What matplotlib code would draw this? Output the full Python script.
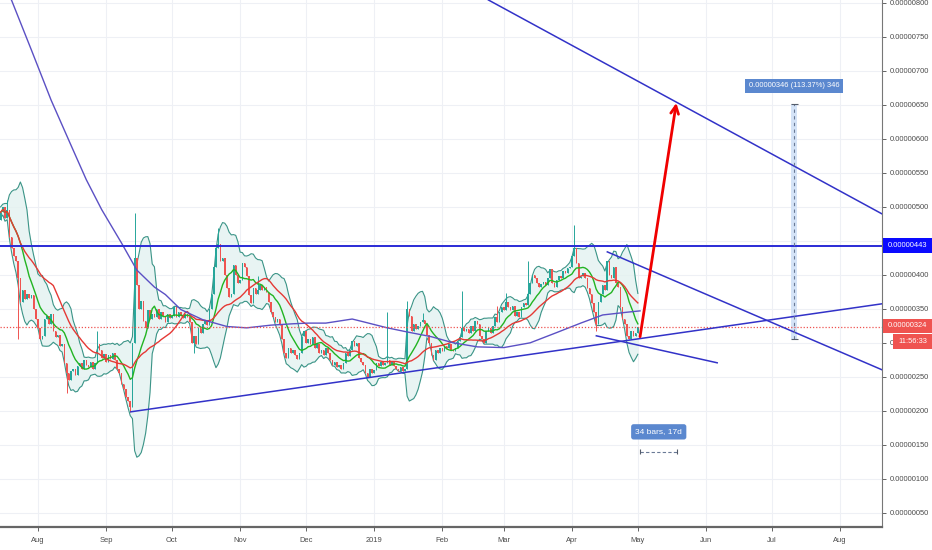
import numpy as np
import pandas as pd
import matplotlib
matplotlib.use('Agg')
import matplotlib.pyplot as plt
from matplotlib import font_manager
from matplotlib.patches import Rectangle
from matplotlib.transforms import blended_transform_factory

# daily closes, 2018-07-15 .. 2019-05-01, in units of 1e-8 (324 -> 0.00000324)
start_day = '2018-07-15'
first_open = 480
closes = [
    492, 500, 484, 496, 455, 440, 428, 420, 395, 360,
    378, 365, 372, 366, 370, 350, 335, 322, 305, 310,
    335, 340, 328, 342, 318, 308, 312, 295, 298, 270,
    255, 245, 258, 262, 252, 266, 270, 262, 275, 268,
    265, 272, 262, 270, 298, 290, 278, 284, 272, 282,
    276, 285, 274, 262, 255, 240, 232, 220, 214, 205,
    300, 425, 385, 350, 362, 332, 322, 348, 335, 342,
    338, 350, 335, 345, 340, 330, 342, 336, 340, 352,
    338, 345, 340, 336, 342, 338, 330, 300, 310, 298,
    322, 315, 328, 332, 326, 350, 372, 412, 440, 445,
    420, 425, 400, 380, 368, 372, 415, 400, 388, 392,
    418, 412, 398, 370, 358, 380, 372, 378, 385, 378,
    382, 375, 360, 345, 338, 330, 335, 326, 305, 285,
    278, 292, 285, 290, 282, 276, 285, 310, 318, 300,
    305, 298, 308, 292, 298, 285, 290, 282, 292, 285,
    275, 268, 272, 265, 268, 262, 270, 285, 280, 290,
    302, 296, 300, 278, 272, 268, 255, 250, 262, 256,
    260, 270, 266, 272, 268, 270, 275, 268, 272, 266,
    262, 258, 264, 258, 262, 350, 340, 318, 328, 320,
    325, 330, 334, 328, 312, 300, 282, 275, 290, 285,
    292, 288, 295, 292, 298, 290, 288, 292, 302, 308,
    322, 318, 320, 315, 325, 318, 332, 328, 310, 305,
    300, 318, 322, 315, 325, 338, 330, 345, 352, 348,
    360, 352, 348, 354, 340, 345, 338, 352, 358, 355,
    372, 388, 400, 395, 388, 382, 386, 390, 385, 395,
    408, 388, 382, 392, 398, 395, 405, 402, 410, 412,
    428, 440, 418, 395, 398, 402, 396, 380, 372, 358,
    345, 328, 360, 372, 385, 378, 420, 400, 395, 412,
    388, 382, 352, 335, 328, 310, 305, 318, 310, 315,
    324,
]
# long wicks seen on the chart (day index -> price)
wick_high = {3: 510, 44: 317, 61: 491, 99: 469, 117: 398, 176: 346, 185: 361,
             192: 344, 210: 376, 226: 354, 230: 373, 240: 420, 261: 474}
wick_low = {8: 305, 30: 226, 59: 198, 88: 285, 271: 318}

# slow moving average (purple)
purple_day = [0, 5, 14, 23, 32, 39, 46, 55, 62, 70, 75, 82, 92, 103, 112, 123,
              133, 140, 148, 160, 165, 176, 185, 196, 206, 217, 229, 241, 253,
              264, 274, 285, 291]
purple_val = [830, 804, 731, 657, 591, 540, 496, 447, 407, 382, 371, 349, 334,
              324, 322, 326, 328, 329, 329, 335, 331, 322, 316, 309, 300, 294,
              293, 300, 315, 329, 341, 345, 347]

# drawn lines: (day, price) pairs
resist_level = 443
last_price = 324
top_line = [(222, 804.4), (401.1, 489.7)]
support_line = [(59.3, 198.5), (401.1, 357.4)]
wedge_upper = [(276.1, 433.8), (401.1, 260.3)]
wedge_lower = [(271.1, 310.3), (326.1, 270.6)]
target_arrow = [(291, 309), (307.5, 653)]
measure_day = 361.2
measure_from, measure_to = 305, 651
bars_range = (291, 308)

month_starts = ['2018-08-01', '2018-09-01', '2018-10-01', '2018-11-01', '2018-12-01',
                '2019-01-01', '2019-02-01', '2019-03-01', '2019-04-01', '2019-05-01',
                '2019-06-01', '2019-07-01', '2019-08-01']
month_labels = ['Aug', 'Sep', 'Oct', 'Nov', 'Dec', '2019', 'Feb', 'Mar', 'Apr', 'May',
                'Jun', 'Jul', 'Aug']
price_ticks = list(range(50, 801, 50))

names = {f.name for f in font_manager.fontManager.ttflist}
if 'Liberation Sans Narrow' in names:
    fnt, fs = 'Liberation Sans Narrow', 6.5
else:
    fnt, fs = 'Liberation Sans', 5.4
plt.rcParams['font.family'] = fnt

UP, DOWN = '#26a69a', '#ef5350'
LINE = '#3232c8'

fig = plt.figure(figsize=(9.32, 5.5), dpi=100)
ax = fig.add_axes([0, 23 / 550, 882 / 932, 527 / 550])

s = pd.Series(closes, dtype=float)
days = np.arange(len(s))
opens = np.r_[first_open, s.values[:-1]]
highs = np.maximum(opens, s.values)
lows = np.minimum(opens, s.values)
for k, v in wick_high.items():
    highs[k] = v
for k, v in wick_low.items():
    lows[k] = v

# bollinger bands + averages
basis = s.rolling(10, min_periods=1).mean()
sd = s.rolling(10, min_periods=2).std(ddof=0).bfill()
upper = basis + 2 * sd
lower = basis - 2 * sd
slow = s.rolling(25, min_periods=1).mean()

ax.fill_between(days, lower, upper, color='#e3f2f0', alpha=0.8, lw=0, zorder=1)
ax.plot(days, upper, color='#3b9487', lw=0.8, zorder=2)
ax.plot(days, lower, color='#3b9487', lw=0.8, zorder=2)

colors = np.where(s.values >= opens, UP, DOWN)
ax.vlines(days, lows, highs, colors=colors, lw=0.7, zorder=3)
body = np.maximum(np.abs(s.values - opens), 1.0)
ax.bar(days, body, bottom=np.minimum(opens, s.values), width=0.7, color=colors,
       lw=0, zorder=3)

ax.plot(days, basis, color='#22b422', lw=1.0, zorder=4)
ax.plot(days, slow, color='#e53935', lw=1.0, zorder=4)
ax.plot(purple_day, purple_val, color='#5b50c4', lw=1.0, zorder=4)

# drawings
ax.axhline(resist_level, color='#2a2ad6', lw=1.4, zorder=5)
ax.axhline(last_price, color=DOWN, lw=0.9, ls=(0, (1, 1.5)), zorder=5)
for pts in (top_line, support_line, wedge_upper, wedge_lower):
    (x0, y0), (x1, y1) = pts
    ax.plot([x0, x1], [y0, y1], color=LINE, lw=1.1, zorder=5)
ax.annotate('', xy=target_arrow[1], xytext=target_arrow[0],
            arrowprops=dict(arrowstyle='->', color='#f00000', lw=2, mutation_scale=14,
                            shrinkA=0, shrinkB=0), zorder=6)

# price range measure
ax.bar(measure_day, measure_to - measure_from, bottom=measure_from, width=2.7,
       color='#d4e3f7', lw=0, zorder=2)
ax.vlines(measure_day, measure_from, measure_to, colors='#6a7a96', lw=0.8,
          linestyles=(0, (3, 3)), zorder=6)
ax.hlines([measure_from, measure_to], measure_day - 1.6, measure_day + 1.6,
          colors='#555c6a', lw=0.8, zorder=6)
ax.text(measure_day, 678, '0.00000346 (113.37%) 346', color='white', fontsize=fs,
        ha='center', va='center', zorder=7,
        bbox=dict(boxstyle='square,pad=0.5', fc='#5b88cf', ec='none'))

# date range measure
ax.hlines(140, *bars_range, colors='#6a7a96', lw=0.8, linestyles=(0, (3, 2)), zorder=6)
ax.vlines(bars_range, 136, 144, colors='#555c6a', lw=0.8, zorder=6)
ax.text(sum(bars_range) / 2, 169, '34 bars, 17d', color='white', fontsize=fs + 0.6,
        ha='center', va='center', zorder=7,
        bbox=dict(boxstyle='round,pad=0.5,rounding_size=0.3', fc='#5b88cf', ec='none'))

# axes
t0 = np.datetime64(start_day)
month_pos = [(np.datetime64(m) - t0).astype(int) for m in month_starts]
ax.set_xlim(-0.27, 401.1)
ax.set_ylim(29, 804.4)
ax.set_xticks(month_pos)
ax.set_xticklabels(month_labels)
ax.yaxis.tick_right()
ax.set_yticks(price_ticks)
# 450 sits under the 443 tag, 300 is mostly hidden by the countdown tag
ylabels = []
for v in price_ticks:
    if v == 450:
        ylabels.append('')
    elif v == 300:
        ylabels.append('0.')
    else:
        ylabels.append(f'{v / 1e8:.8f}')
ax.set_yticklabels(ylabels)
ax.tick_params(axis='both', labelsize=fs, colors='#4a4a4a', length=3, width=0.6)
ax.tick_params(axis='y', pad=2.5)
ax.tick_params(axis='x', pad=4)
ax.grid(True, color='#eef0f5', lw=0.8)
ax.set_axisbelow(True)
for side in ('top', 'left'):
    ax.spines[side].set_visible(False)
ax.spines['right'].set_color('#777777')
ax.spines['right'].set_linewidth(0.8)
ax.spines['bottom'].set_color('#666666')
ax.spines['bottom'].set_linewidth(1.6)

# price tags on the right scale
tr = blended_transform_factory(ax.transAxes, ax.transData)
px = 1 / 882
tags = [
    (883, 932, resist_level, 11, '#0a0aff', f'{resist_level / 1e8:.8f}', 888),
    (883, 932, last_price + 1, 10.5, DOWN, f'{last_price / 1e8:.8f}', 888),
    (893, 932, 302, 10.5, DOWN, '11:56:33', 898),
]
for x0, x1, yc, half, fc, txt, tx in tags:
    ax.add_patch(Rectangle((x0 * px, yc - half), (x1 - x0) * px, 2 * half,
                           transform=tr, fc=fc, ec='none', clip_on=False, zorder=8))
    ax.text(tx * px, yc, txt, transform=tr, color='white', fontsize=fs, va='center',
            ha='left', clip_on=False, zorder=9)

fig.savefig('out.png', dpi=100)
